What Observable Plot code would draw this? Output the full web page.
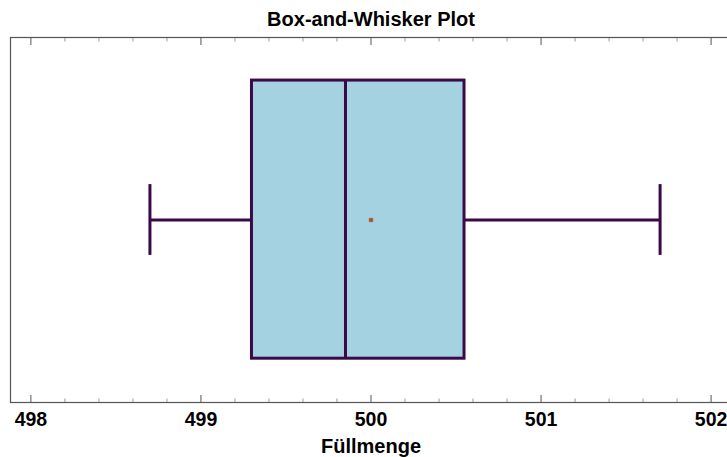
<!DOCTYPE html>
<html>
<head>
<meta charset="utf-8">
<script src="https://cdn.jsdelivr.net/npm/d3@7"></script>
<script src="https://cdn.jsdelivr.net/npm/@observablehq/plot@0.6"></script>
<style>
  html, body { margin: 0; padding: 0; background: #fff; overflow: hidden; }
  #chart svg { display: block; max-width: none !important; }
</style>
</head>
<body>
<div id="chart"></div>
<script>
// ---- data ----
const categories = ["Füllmenge"];
const q1Values = [499.3];
const medianValues = [499.85];
const q3Values = [500.55];
const whiskerLow = [498.7];
const whiskerHigh = [501.7];
const meanValues = [500.0];
const majorTicks = [498, 499, 500, 501, 502];
const minorTicks = [498.2, 498.4, 498.6, 498.8, 499.2, 499.4, 499.6, 499.8,
                    500.2, 500.4, 500.6, 500.8, 501.2, 501.4, 501.6, 501.8];
const titleText = "Box-and-Whisker Plot";
const xLabel = "Füllmenge";

// ---- layout (styles, not data) ----
const boxLo = 0.12, boxHi = 0.882, capLo = 0.403, capHi = 0.597, mid = 0.5;
const stroke = "#3a0a48";
const fill = "#a5d2e0";
const font = "'Liberation Sans', Arial, sans-serif";
const noLabel = () => "";

const rows = categories.map((c, i) => ({
  cat: c, q1: q1Values[i], med: medianValues[i], q3: q3Values[i],
  lo: whiskerLow[i], hi: whiskerHigh[i], mean: meanValues[i]
}));

const chart = Plot.plot({
  width: 741,
  height: 457,
  marginLeft: 10,
  marginRight: 10,
  marginTop: 37,
  marginBottom: 55,
  style: { fontFamily: font, background: "#fff" },
  x: { domain: [497.88, 502.12] },
  y: { domain: [0, 1], axis: null },
  marks: [
    // whiskers
    Plot.ruleY(rows, { x1: "lo", x2: "q1", y: () => mid, stroke, strokeWidth: 3 }),
    Plot.ruleY(rows, { x1: "q3", x2: "hi", y: () => mid, stroke, strokeWidth: 3 }),
    Plot.ruleX(rows, { x: "lo", y1: () => capLo, y2: () => capHi, stroke, strokeWidth: 3 }),
    Plot.ruleX(rows, { x: "hi", y1: () => capLo, y2: () => capHi, stroke, strokeWidth: 3 }),
    // box
    Plot.rect(rows, { x1: "q1", x2: "q3", y1: () => boxLo, y2: () => boxHi, fill, stroke, strokeWidth: 3 }),
    // median
    Plot.ruleX(rows, { x: "med", y1: () => boxLo, y2: () => boxHi, stroke, strokeWidth: 3 }),
    // mean
    Plot.dot(rows, { x: "mean", y: () => mid, symbol: "square", r: 2.2, fill: "#a8501a", stroke: "#9a8a80", strokeWidth: 0.5 }),
    // frame
    Plot.frame({ stroke: "#555", strokeWidth: 1.2 }),
    // ticks bottom/top (inward)
    Plot.axisX(majorTicks, { anchor: "bottom", tickSize: -7, tickFormat: noLabel, label: null, stroke: "#555" }),
    Plot.axisX(minorTicks, { anchor: "bottom", tickSize: -3.5, tickFormat: noLabel, label: null, stroke: "#999" }),
    Plot.axisX(majorTicks, { anchor: "top", tickSize: -7, tickFormat: noLabel, label: null, stroke: "#555" }),
    Plot.axisX(minorTicks, { anchor: "top", tickSize: -3.5, tickFormat: noLabel, label: null, stroke: "#999" }),
    // tick labels
    Plot.axisX(majorTicks, { anchor: "bottom", tickSize: 0, tickPadding: 10, label: null,
      fontSize: 19.5, fontWeight: "bold", fill: "#000", tickFormat: d => String(d) }),
    // axis label
    Plot.text([xLabel], { frameAnchor: "bottom", lineAnchor: "middle", dy: 44, fontSize: 20, fontWeight: "bold", fill: "#000" }),
    // title
    Plot.text([titleText], { frameAnchor: "top", lineAnchor: "middle", dy: -18, fontSize: 20, fontWeight: "bold", fill: "#000" })
  ]
});
document.getElementById("chart").appendChild(chart);
</script>
</body>
</html>
